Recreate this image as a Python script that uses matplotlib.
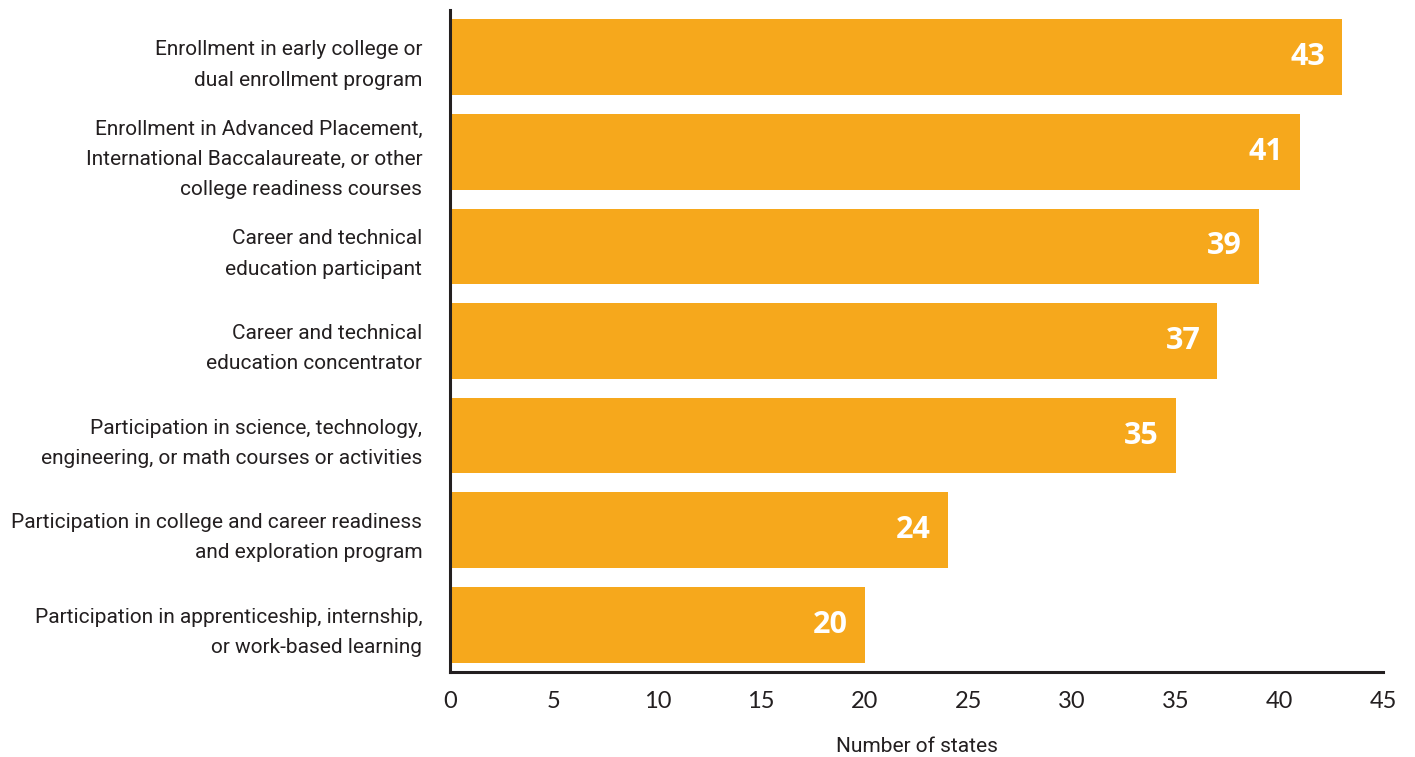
import matplotlib.pyplot as plt

categories = [
    "Enrollment in early college or\ndual enrollment program",
    "Enrollment in Advanced Placement,\nInternational Baccalaureate, or other\ncollege readiness courses",
    "Career and technical\neducation participant",
    "Career and technical\neducation concentrator",
    "Participation in science, technology,\nengineering, or math courses or activities",
    "Participation in college and career readiness\nand exploration program",
    "Participation in apprenticeship, internship,\nor work-based learning",
]
values = [43, 41, 39, 37, 35, 24, 20]
xticks = [0, 5, 10, 15, 20, 25, 30, 35, 40, 45]

bar_color = "#F6A81C"
ink = "#231F20"

fig = plt.figure(figsize=(14.15, 7.57), dpi=100)
ax = fig.add_axes([0.318, 0.1123, 0.6594, 0.8745])

ypos = list(range(len(categories)))
ax.barh(ypos, values, height=0.8, color=bar_color)
for y, v in zip(ypos, values):
    ax.text(v - 0.8, y, str(v), ha="right", va="center", color="white",
            fontsize=22, fontweight="bold", family="Open Sans")

ax.set_ylim(6.5, -0.5)
ax.set_xlim(0, 45)
ax.set_yticks(ypos)
ax.set_yticklabels(categories, family="Roboto", fontsize=15, color=ink, linespacing=1.75)
ax.set_xticks(xticks)
ax.set_xticklabels([str(t) for t in xticks], family="Lato", fontsize=17, color=ink)
ax.tick_params(axis="both", length=0)
ax.tick_params(axis="y", pad=20)
ax.tick_params(axis="x", pad=14)

for s in ["top", "right"]:
    ax.spines[s].set_visible(False)
for s in ["left", "bottom"]:
    ax.spines[s].set_color(ink)
    ax.spines[s].set_linewidth(2.2)

ax.set_xlabel("Number of states", family="Roboto", fontsize=15, color=ink, labelpad=18)

fig.savefig("out.png", dpi=100)
